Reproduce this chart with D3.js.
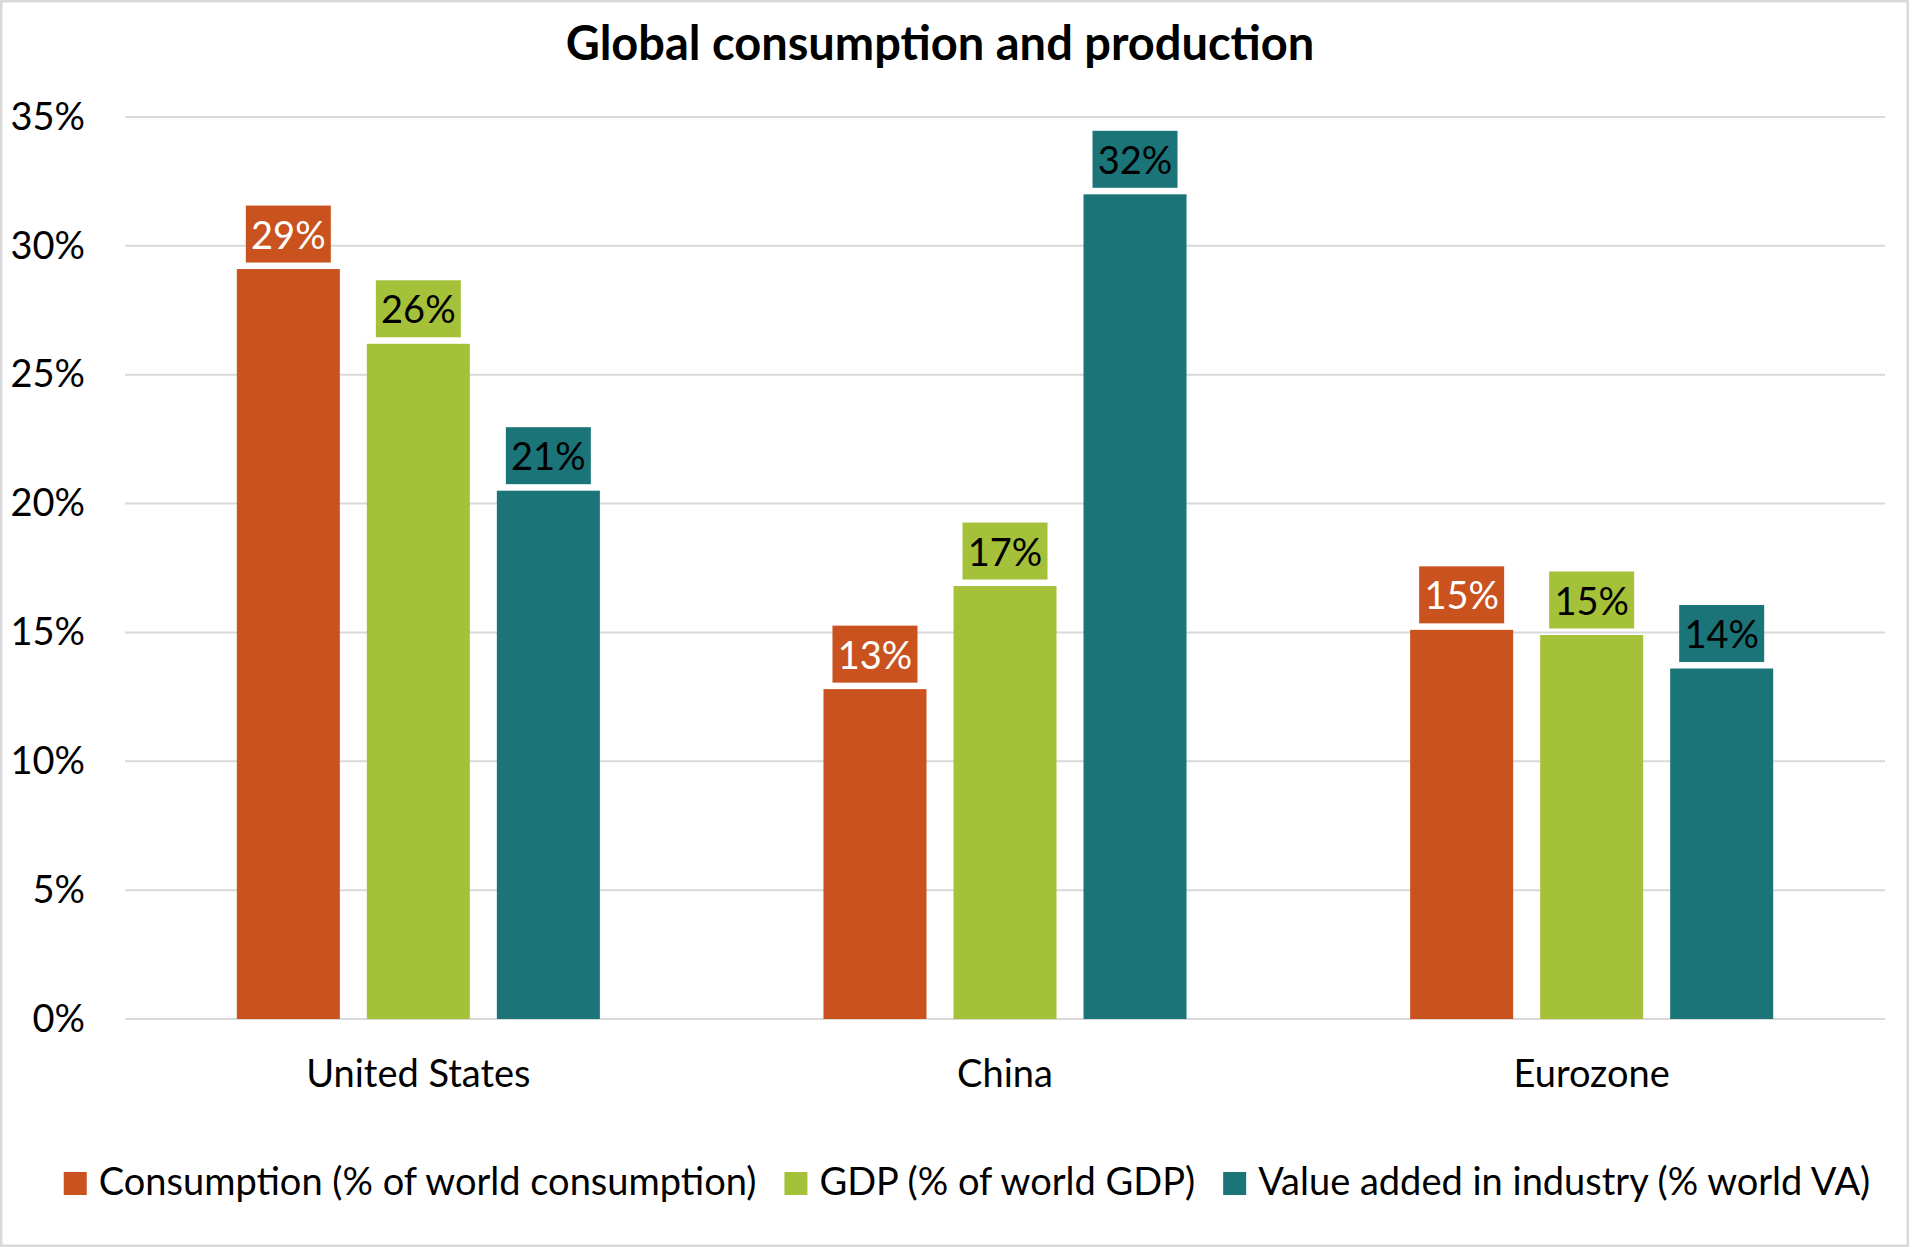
<!DOCTYPE html>
<html lang="en">
<head>
    <meta charset="UTF-8">
    <title>Global consumption and production</title>
    <script src="https://cdn.jsdelivr.net/npm/d3@7"></script>
    <style>
        body { margin: 0; background: #fff; }
        svg { display: block; font-family: Lato, "Open Sans", sans-serif; }
    </style>
</head>
<body>
<script>

    // DATA (in %)
    const categories = ["United States", "China", "Eurozone"]
    const seriesNames = ["Consumption (% of world consumption)", "GDP (% of world GDP)", "Value added in industry (% world VA)"]
    const consumption = [29.1, 12.8, 15.1]
    const gdp = [26.2, 16.8, 14.9]
    const valueAdded = [20.5, 32.0, 13.6]
    const yTicks = [0, 5, 10, 15, 20, 25, 30, 35]

    const colors = ["#C9521E", "#A5C13A", "#1A7478"]
    const labelColors = ["#ffffff", "#000000", "#000000"]
    const allSeries = [consumption, gdp, valueAdded]

    const W = 1909, H = 1247
    const FS = 38

    let svg = d3.select("body").append("svg").attr("width", W).attr("height", H)

    // background + outer border
    svg.append("rect").attr("x", 1).attr("y", 1).attr("width", W - 2).attr("height", H - 2)
        .style("fill", "#fff").style("stroke", "#d9d9d9").style("stroke-width", 3)

    // SCALES
    let y_scale = d3.scaleLinear().domain([0, 35]).range([1019, 117])
    let x0 = d3.scaleBand().domain(categories).range([125, 1885])
    let x1 = d3.scaleBand().domain(d3.range(seriesNames.length))
        .range([0, x0.bandwidth()])
        .paddingInner(0.2077).paddingOuter(0.86)

    // GRIDLINES
    svg.append("g").selectAll("line").data(yTicks).join("line")
        .attr("x1", 125).attr("x2", 1885)
        .attr("y1", d => y_scale(d)).attr("y2", d => y_scale(d))
        .style("stroke", "#d9d9d9").style("stroke-width", 2)

    // Y AXIS LABELS
    const y_axis = d3.axisLeft(y_scale).tickValues(yTicks).tickFormat(d => d + "%").tickSize(0).tickPadding(0)
    let yg = svg.append("g").attr("transform", "translate(85,0)").call(y_axis)
    yg.select(".domain").remove()
    yg.selectAll("text").style("font-size", FS + "px").style("font-family", "Lato").attr("fill", "#000")

    // X AXIS LABELS
    const x_axis = d3.axisBottom(x0).tickSize(0).tickPadding(0)
    let xg = svg.append("g").attr("transform", "translate(0,1019)").call(x_axis)
    xg.select(".domain").remove()
    xg.selectAll("text").attr("dy", null).attr("y", 68)
        .style("font-size", FS + "px").style("font-family", "Lato").attr("fill", "#000")

    // BARS
    let rows = []
    categories.forEach((c, ci) => {
        allSeries.forEach((s, si) => rows.push({cat: c, si: si, v: s[ci]}))
    })

    let barX = d => x0(d.cat) + x1(d.si)

    svg.append("g").selectAll("rect").data(rows).join("rect")
        .attr("x", barX)
        .attr("y", d => y_scale(d.v))
        .attr("width", x1.bandwidth())
        .attr("height", d => y_scale(0) - y_scale(d.v))
        .style("fill", d => colors[d.si])

    // DATA LABELS (boxed)
    const boxW = 85, boxH = 57, boxGap = 6.5
    let lab = svg.append("g").selectAll("g").data(rows).join("g")
        .attr("transform", d => `translate(${barX(d) + x1.bandwidth() / 2},${y_scale(d.v) - boxGap})`)
    lab.append("rect")
        .attr("x", -boxW / 2).attr("y", -boxH)
        .attr("width", boxW).attr("height", boxH)
        .style("fill", d => colors[d.si])
    lab.append("text")
        .attr("text-anchor", "middle")
        .attr("y", -14)
        .style("font-size", FS + "px")
        .style("fill", d => labelColors[d.si])
        .text(d => Math.round(d.v) + "%")

    // TITLE
    svg.append("text").attr("x", 940).attr("y", 60).attr("text-anchor", "middle")
        .style("font-size", "47px").style("font-weight", "bold").text("Global consumption and production")

    // LEGEND
    let legend = svg.append("g")
    let cursor = 0
    seriesNames.forEach((name, i) => {
        legend.append("rect").attr("x", cursor).attr("y", -23).attr("width", 23).attr("height", 23)
            .style("fill", colors[i])
        let t = legend.append("text").attr("x", cursor + 35).attr("y", 0)
            .style("font-size", FS + "px").text(name)
        cursor += 35 + t.node().getComputedTextLength() + 28
    })
    cursor -= 28
    legend.attr("transform", `translate(${967 - cursor / 2},1195)`)

</script>
</body>
</html>
